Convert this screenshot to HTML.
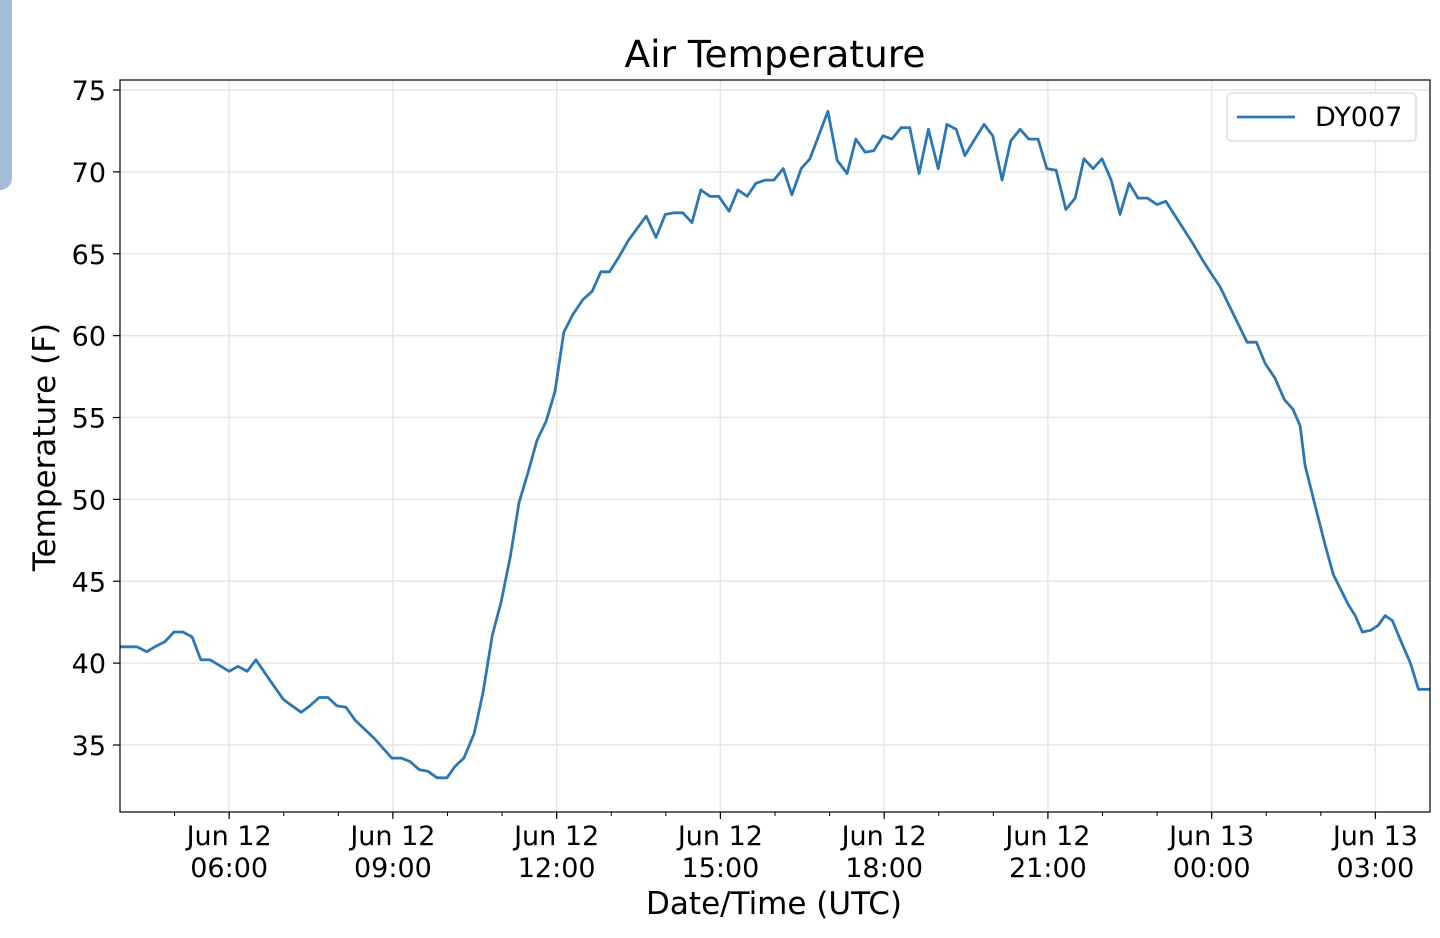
<!DOCTYPE html>
<html><head><meta charset="utf-8"><style>
body{margin:0;background:#fff;width:1440px;height:938px;overflow:hidden;font-family:"Liberation Sans","DejaVu Sans",sans-serif}
svg text{font-family:"DejaVu Sans","Liberation Sans",sans-serif;fill:#000}
</style></head><body>
<div style="position:absolute;left:-10px;top:-10px;width:22px;height:200px;background:#a3bcd8;border-radius:0 0 12px 0"></div>
<svg id="chart" width="1440" height="938" style="position:absolute;left:0;top:0">
<text x="775" y="67" font-size="37.5" text-anchor="middle">Air Temperature</text>
<g id="grid"></g>
<g id="axes"></g>
<path id="line" fill="none" stroke="#2c77b4" stroke-width="2.8" stroke-linejoin="round"/>
<rect x="120" y="80" width="1310" height="732" fill="none" stroke="#000" stroke-width="1.2"/>
<g>
<rect x="1227" y="93" width="189" height="48" rx="4" fill="#fff" stroke="#ccc"/>
<line x1="1237" y1="117" x2="1295" y2="117" stroke="#2c77b4" stroke-width="2.8"/>
<text x="1315" y="126" font-size="27">DY007</text>
</g>
<text x="774" y="914" font-size="31" text-anchor="middle">Date/Time (UTC)</text>
<text transform="translate(55,447) rotate(-90)" font-size="31" text-anchor="middle">Temperature (F)</text>
</svg>
<script>
const hours=[0,0.31,0.49,0.64,0.82,0.99,1.15,1.32,1.48,1.65,2.0,2.16,2.33,2.49,2.8,2.99,3.15,3.32,3.48,3.65,3.81,3.97,4.14,4.31,4.66,4.98,5.15,5.31,5.48,5.64,5.81,5.99,6.14,6.30,6.49,6.65,6.82,6.98,7.15,7.31,7.48,7.64,7.81,7.97,8.13,8.30,8.48,8.65,8.81,8.97,9.14,9.31,9.64,9.82,9.99,10.15,10.31,10.48,10.64,10.81,10.97,11.16,11.32,11.49,11.65,11.82,11.98,12.15,12.31,12.48,12.64,12.97,13.14,13.32,13.48,13.65,13.81,13.98,14.14,14.31,14.47,14.64,14.81,14.99,15.15,15.32,15.48,15.66,15.83,15.99,16.16,16.32,16.49,16.65,16.82,16.98,17.15,17.33,17.50,17.66,17.83,17.99,18.16,18.32,18.49,18.65,18.82,19.00,19.16,19.66,19.82,19.99,20.15,20.65,20.82,20.98,21.16,21.33,21.49,21.62,21.71,21.89,22.08,22.23,22.35,22.50,22.63,22.76,22.91,23.05,23.18,23.31,23.46,23.64,23.79,24.0];
const temps=[41.0,41.0,40.7,41.0,41.3,41.9,41.9,41.6,40.2,40.2,39.5,39.8,39.5,40.2,38.7,37.8,37.4,37.0,37.4,37.9,37.9,37.4,37.3,36.5,35.4,34.2,34.2,34.0,33.5,33.4,33.0,33.0,33.7,34.2,35.7,38.2,41.7,43.7,46.5,49.8,51.7,53.6,54.8,56.6,60.2,61.3,62.2,62.7,63.9,63.9,64.8,65.8,67.3,66.0,67.4,67.5,67.5,66.9,68.9,68.5,68.5,67.6,68.9,68.5,69.3,69.5,69.5,70.2,68.6,70.2,70.8,73.7,70.7,69.9,72.0,71.2,71.3,72.2,72.0,72.7,72.7,69.9,72.6,70.2,72.9,72.6,71.0,72.0,72.9,72.2,69.5,71.9,72.6,72.0,72.0,70.2,70.1,67.7,68.4,70.8,70.2,70.8,69.5,67.4,69.3,68.4,68.4,68.0,68.2,65.6,64.7,63.8,63.0,59.6,59.6,58.3,57.4,56.1,55.5,54.5,52.1,49.7,47.2,45.4,44.6,43.6,42.9,41.9,42.0,42.3,42.9,42.6,41.4,40.0,38.4,38.4];
const yTicks=[35,40,45,50,55,60,65,70,75];
const xTickHours=[2,5,8,11,14,17,20,23];
const xTickLabels=[["Jun 12","06:00"],["Jun 12","09:00"],["Jun 12","12:00"],["Jun 12","15:00"],["Jun 12","18:00"],["Jun 12","21:00"],["Jun 13","00:00"],["Jun 13","03:00"]];
const X=h=>120+h*1310/24;
const Y=v=>90+(75-v)*16.375;
const NS="http://www.w3.org/2000/svg";
const grid=document.getElementById('grid'),axes=document.getElementById('axes');
function mk(tag,attrs,parent){const e=document.createElementNS(NS,tag);for(const k in attrs)e.setAttribute(k,attrs[k]);parent.appendChild(e);return e;}
yTicks.forEach(v=>{
  const g=mk('line',{x1:120,x2:1430,y1:Y(v),y2:Y(v),stroke:'#e6e6e6','stroke-width':1.5},grid);
  
  
  mk('line',{x1:113,x2:120,y1:Y(v),y2:Y(v),stroke:'#000','stroke-width':1.2},axes);
  const t=mk('text',{x:106,y:Y(v)+10,'font-size':27,'text-anchor':'end'},axes);
  t.textContent=v;
  
  
});
for(let h=1;h<24;h++){mk('line',{x1:X(h),x2:X(h),y1:812,y2:816,stroke:'#000','stroke-width':1},axes);}
xTickHours.forEach((h,i)=>{
  const g=mk('line',{x1:X(h),x2:X(h),y1:80,y2:812,stroke:'#e6e6e6','stroke-width':1.5},grid);
  
  
  mk('line',{x1:X(h),x2:X(h),y1:812,y2:819,stroke:'#000','stroke-width':1.2},axes);
  xTickLabels[i].forEach((s,j)=>{
    const t=mk('text',{x:X(h),y:845+j*32,'font-size':27,'text-anchor':'middle'},axes);
    t.textContent=s;
    
    
  });
});
document.getElementById('line').setAttribute('d',hours.map((h,i)=>(i?'L':'M')+X(h).toFixed(1)+','+Y(temps[i]).toFixed(1)).join(''));
</script>
</body></html>
